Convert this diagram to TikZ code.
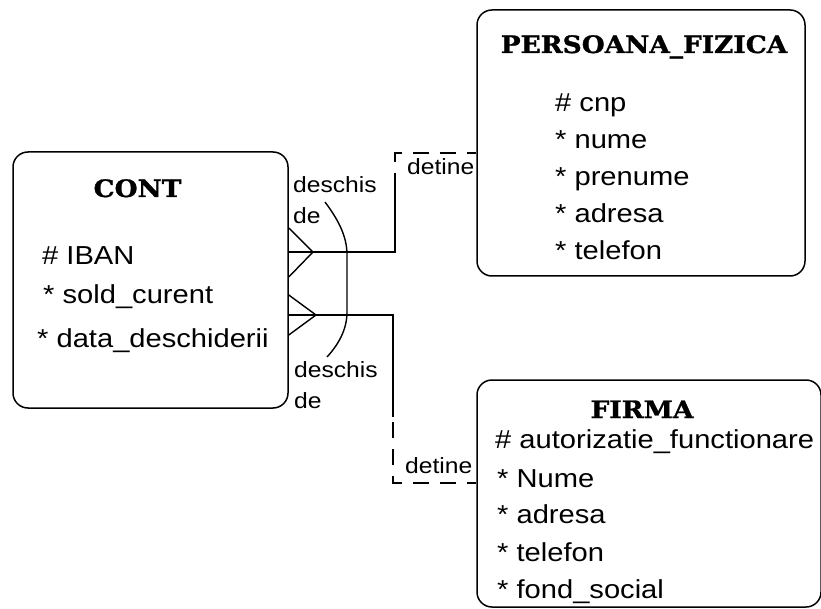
\documentclass[tikz,border=0pt]{standalone}
\usepackage{fontspec}
\usetikzlibrary{calc}
\newfontfamily\attrfont[FakeStretch=1.12]{Liberation Sans}
\newfontfamily\titlefont[FakeStretch=1.1,FakeBold=1.2]{DejaVu Serif}
\begin{document}
\begin{tikzpicture}[x=1pt,y=-1pt,
  entity/.style={draw, line width=1.5pt, rounded corners=15pt, inner sep=0pt},
  etitle/.style={anchor=base, inner sep=0pt, font=\titlefont\bfseries\fontsize{24}{28}\selectfont},
  attr/.style={anchor=base west, inner sep=0pt, font=\attrfont\fontsize{26}{30}\selectfont},
  rlabel/.style={anchor=base west, inner sep=0pt, align=left, font=\attrfont\fontsize{22}{31}\selectfont},
  rel/.style={line width=1.5pt},
  optrel/.style={line width=1.5pt, dash pattern=on 16pt off 11pt, dash phase=7pt},
  foot/.style={line width=1.4pt}]
\useasboundingbox (0,0) rectangle (821,609);

% entity boxes
\node[entity, minimum width=275pt, minimum height=256pt] (cont) at (150.5,280) {};
\node[entity, minimum width=328pt, minimum height=266pt] (pf) at (641,143) {};
\node[entity, minimum width=344pt, minimum height=227pt] (firma) at (649,493.5) {};

% CONT
\node[etitle] (contT) at (137.5,197) {CONT};
\node[attr] (contA1) at (42,265) {\# IBAN};
\node[attr] (contA2) at (43,303) {* sold\_curent};
\node[attr] (contA3) at (37,347) {* data\_deschiderii};

% PERSOANA_FIZICA
\node[etitle] (pfT) at (644,53) {PERSOANA\_FIZICA};
\node[attr] (pfA1) at (555,112) {\# cnp};
\node[attr] (pfA2) at (555,149) {* nume};
\node[attr] (pfA3) at (555,186) {* prenume};
\node[attr] (pfA4) at (555,223) {* adresa};
\node[attr] (pfA5) at (555,260) {* telefon};

% FIRMA
\node[etitle] (firmaT) at (642,418) {FIRMA};
\node[attr] (firmaA1) at (495,448) {\# autorizatie\_functionare};
\node[attr] (firmaA2) at (497,487) {* Nume};
\node[attr] (firmaA3) at (497,523) {* adresa};
\node[attr] (firmaA4) at (497,561) {* telefon};
\node[attr] (firmaA5) at (497,598) {* fond\_social};

% relationship CONT -- PERSOANA_FIZICA
\coordinate (u0) at ($(cont.east)+(0,-28)$);
\coordinate (ucorner) at (395,252);
\coordinate (umid) at (395,188);
\coordinate (ubend) at (395,153);
\draw[rel] (u0) -- (ucorner) -- (umid);
\draw[optrel] (ubend -| pf.west) -- (ubend) -- (umid);
\draw[foot] ($(cont.east)+(0,-52)$) -- (313,252) -- ($(cont.east)+(0,-3)$);

% relationship CONT -- FIRMA
\coordinate (l0) at ($(cont.east)+(0,35)$);
\coordinate (lcorner) at (393,315);
\coordinate (lmid) at (393,417);
\coordinate (lbend) at (393,483);
\draw[rel] (l0) -- (lcorner) -- (lmid);
\draw[optrel] (lbend -| firma.west) -- (lbend) -- (lmid);
\draw[foot] ($(cont.east)+(0,15)$) -- (316,315) -- ($(cont.east)+(0,55)$);

% exclusive arc across both relationships
\draw[line width=1.4pt] (325,202) .. controls (340,222) and (347,238) .. (347,255)
  -- (347,312) .. controls (347,330) and (338,345) .. (327,357);

% relationship labels (base anchor sits on the last line)
\node[rlabel] (uname) at (293,224) {deschis\\de};
\node[rlabel] (lname) at (294,408) {deschis\\de};
\node[rlabel] (urole) at (407,175) {detine};
\node[rlabel] (lrole) at (405,473) {detine};
\end{tikzpicture}
\end{document}
